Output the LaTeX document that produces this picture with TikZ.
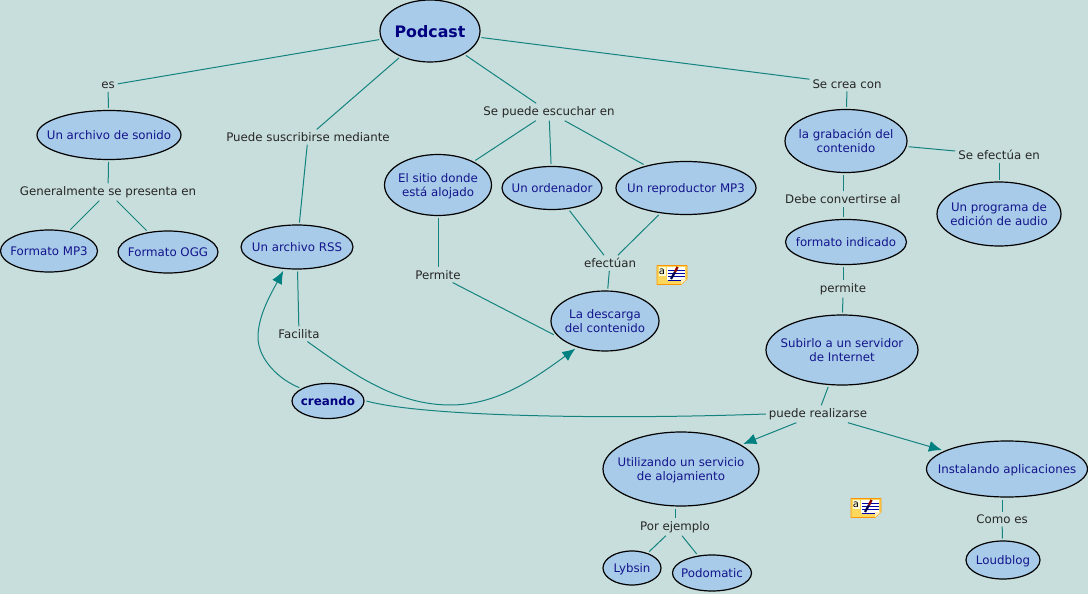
\documentclass[tikz,border=0pt]{standalone}
\usepackage{fontspec}
\setmainfont{DejaVu Sans}
\usetikzlibrary{shapes.geometric,arrows.meta}
\definecolor{bgc}{HTML}{C8DEDC}
\definecolor{fillc}{HTML}{A7CBE8}
\definecolor{linec}{HTML}{14837F}
\definecolor{arrowc}{HTML}{008080}
\definecolor{txtc}{HTML}{14148C}
\definecolor{boldc}{HTML}{000080}
\definecolor{iconc}{HTML}{FBD75B}
\newcommand{\ct}[1]{\makebox[0pt]{\smash{\raisebox{-0.4em}{\begin{tabular}[c]{@{}c@{}}#1\end{tabular}}}}}
\tikzset{
  x=1pt,y=-1pt,
  concept/.style={ellipse,draw=black,line width=1.2pt,fill=fillc,inner sep=0pt,outer sep=2.5pt,
    text=txtc,font=\fontsize{11.8}{14.5}\selectfont},
  main/.style={concept,text=boldc,font=\fontsize{15.8}{17}\selectfont\bfseries},
  boldnode/.style={concept,text=boldc,font=\fontsize{11.9}{14}\selectfont\bfseries},
  phrase/.style={inner sep=1pt,outer sep=2pt,text=black!85,font=\fontsize{11.8}{14}\selectfont},
  link/.style={draw=linec,line width=1pt},
  arrowlink/.style={link,-{Latex[length=13pt,width=11pt,color=arrowc]}},
  noteicon/.pic={
    \draw[draw=orange!85!yellow,line width=0.9pt,fill=iconc,line join=round]
      (-15,-9.5) -- (15,-9.5) -- (15,4) -- (9,9.5) -- (-15,9.5) -- cycle;
    \fill[white!85!yellow] (-13.5,-8) rectangle (-6.5,1);
    \node[inner sep=0pt,font=\fontsize{10}{10}\selectfont,text=black] (icontext) at (-10,-3.5) {a};
    \fill[white] (-5,-8) rectangle (13,5);
    \foreach \yy in {-5,-1.7,1.7,5}{\draw[blue!65!black,line width=0.8pt] (-4,\yy) -- (13,\yy);}
    \draw[black!70!blue,line width=2.2pt] (-1,4) -- (3,-3);
    \draw[red!55!black,line width=2.4pt] (3,-3) -- (5.5,-8);
    \fill[iconc!40!white] (15,4) -- (9,4) -- (9,9.5) -- cycle;
  }
}
\begin{document}
\begin{tikzpicture}
\useasboundingbox[fill=bgc] (0,0) rectangle (1088,594);
% concepts
\node[main,minimum width=100pt,minimum height=62pt] (podcast) at (430,31) {\ct{Podcast}};
\node[concept,minimum width=144pt,minimum height=49pt] (sonido) at (109,135) {\ct{Un archivo de sonido}};
\node[concept,minimum width=97pt,minimum height=42pt] (mp3) at (49,251) {\ct{Formato MP3}};
\node[concept,minimum width=100pt,minimum height=42pt] (ogg) at (168,252) {\ct{Formato OGG}};
\node[concept,minimum width=112pt,minimum height=44pt] (rss) at (297,247) {\ct{Un archivo RSS}};
\node[concept,minimum width=107pt,minimum height=61pt] (sitio) at (438,185) {\ct{El sitio donde\\está alojado}};
\node[concept,minimum width=100pt,minimum height=43pt] (ordenador) at (552,188) {\ct{Un ordenador}};
\node[concept,minimum width=140pt,minimum height=53pt] (reproductor) at (686,188) {\ct{Un reproductor MP3}};
\node[concept,minimum width=108pt,minimum height=60pt] (descarga) at (605,321) {\ct{La descarga\\del contenido}};
\node[concept,minimum width=122pt,minimum height=63pt] (grabacion) at (846,141) {\ct{la grabación del\\contenido}};
\node[concept,minimum width=124pt,minimum height=64pt] (programa) at (999,214) {\ct{Un programa de\\edición de audio}};
\node[concept,minimum width=121pt,minimum height=45pt] (formato) at (846,242) {\ct{formato indicado}};
\node[concept,minimum width=152pt,minimum height=70pt] (subirlo) at (842,350) {\ct{Subirlo a un servidor\\de Internet}};
\node[boldnode,minimum width=72pt,minimum height=35pt] (creando) at (328,401) {\ct{creando}};
\node[concept,minimum width=156pt,minimum height=74pt] (utilizando) at (681,469) {\ct{Utilizando un servicio\\de alojamiento}};
\node[concept,minimum width=161pt,minimum height=56pt] (instalando) at (1007,469) {\ct{Instalando aplicaciones}};
\node[concept,minimum width=58pt,minimum height=34pt] (lybsin) at (632,568) {\ct{Lybsin}};
\node[concept,minimum width=79pt,minimum height=36pt] (podomatic) at (712,573) {\ct{Podomatic}};
\node[concept,minimum width=74pt,minimum height=38pt] (loudblog) at (1003,560) {\ct{Loudblog}};
% linking phrases
\node[phrase] (es) at (108,85.5) {es};
\node[phrase] (generalmente) at (108,192) {Generalmente se presenta en};
\node[phrase] (suscribirse) at (308,137) {Puede suscribirse mediante};
\node[phrase] (escuchar) at (549,112) {Se puede escuchar en};
\node[phrase] (secrea) at (847,84) {Se crea con};
\node[phrase] (efectua) at (999,155) {Se efectúa en};
\node[phrase] (convertirse) at (843,199) {Debe convertirse al};
\node[phrase] (permitelow) at (843,289) {permite};
\node[phrase] (permite) at (438,275) {Permite};
\node[phrase] (efectuan) at (610,263) {efectúan};
\node[phrase] (facilita) at (299,334) {Facilita};
\node[phrase] (realizarse) at (818,414) {puede realizarse};
\node[phrase] (ejemplo) at (675,527) {Por ejemplo};
\node[phrase] (comoes) at (1002,519) {Como es};
% connectors
\draw[link] (podcast) -- (es);
\draw[link] (es) -- (sonido);
\draw[link] (sonido) -- (generalmente);
\draw[link] (generalmente) -- (mp3);
\draw[link] (generalmente) -- (ogg);
\draw[link] (podcast) -- (suscribirse);
\draw[link] (suscribirse) -- (rss);
\draw[link] (podcast) -- (escuchar);
\draw[link] (escuchar) -- (sitio);
\draw[link] (escuchar) -- (ordenador);
\draw[link] (escuchar) -- (reproductor);
\draw[link] (sitio) -- (permite);
\draw[link] (permite) -- (descarga.195);
\draw[link] (ordenador) -- (efectuan);
\draw[link] (reproductor) -- (efectuan);
\draw[link] (efectuan) -- (descarga);
\draw[link] (podcast) -- (secrea);
\draw[link] (secrea) -- (grabacion);
\draw[link] (grabacion) -- (efectua);
\draw[link] (efectua) -- (programa);
\draw[link] (convertirse |- grabacion.south) -- (convertirse);
\draw[link] (convertirse) -- (convertirse |- formato.north);
\draw[link] (permitelow |- formato.south) -- (permitelow);
\draw[link] (permitelow) -- (subirlo);
\draw[link] (subirlo) -- (realizarse);
\draw[link] (rss) -- (facilita);
\draw[link] (ejemplo |- utilizando.south) -- (ejemplo);
\draw[link] (ejemplo) -- (lybsin);
\draw[link] (ejemplo) -- (podomatic);
\draw[link] (comoes |- instalando.south) -- (comoes);
\draw[link] (comoes) -- (loudblog);
\draw[arrowlink] (realizarse) -- (utilizando);
\draw[arrowlink] (realizarse) -- (instalando);
\draw[arrowlink] (facilita.-42) .. controls (350,372) and (395,405) .. (450,405)
   .. controls (495,405) and (530,382) .. (descarga.223);
\draw[arrowlink] (creando.155) .. controls (280,380) and (258,360) .. (258,337)
   .. controls (258,315) and (272,292) .. (rss.240);
\draw[link] (creando.east) .. controls (420,416) and (600,420) .. (realizarse.west);
% note icons
\pic at (672,275) {noteicon};
\pic at (866,508) {noteicon};
\end{tikzpicture}
\end{document}
